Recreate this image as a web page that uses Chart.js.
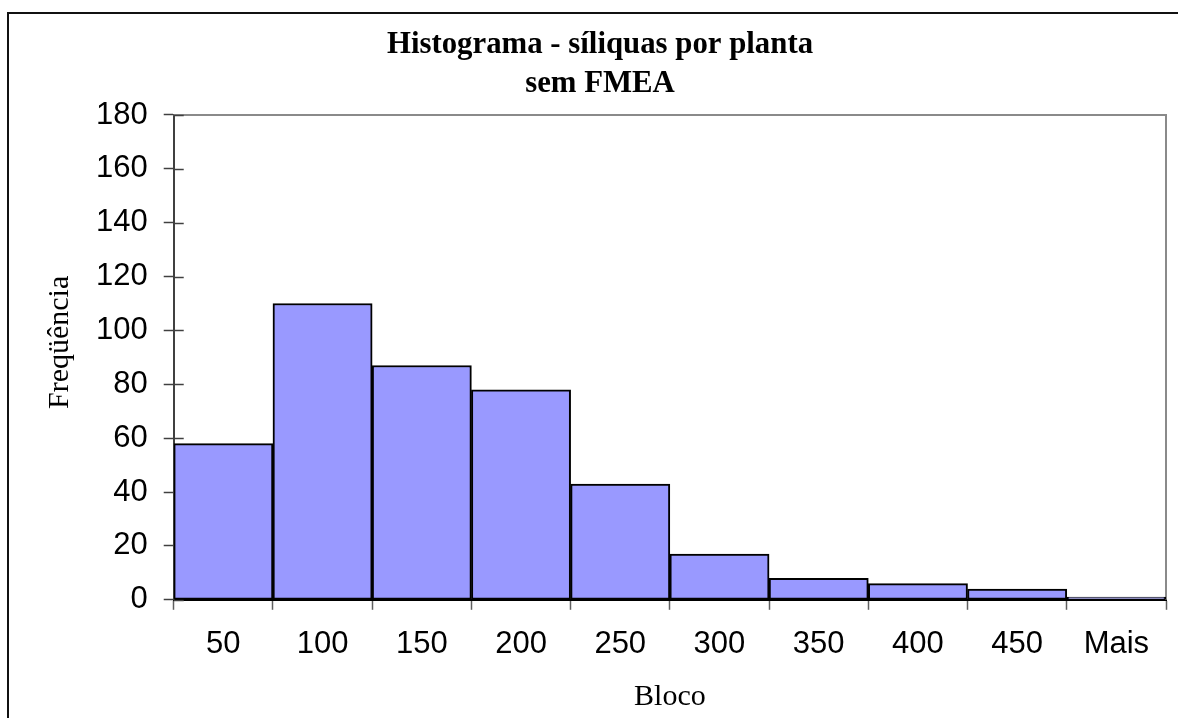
<!DOCTYPE html>
<html>
<head>
<meta charset="utf-8">
<script src="https://cdn.jsdelivr.net/npm/chart.js@4"></script>
<style>
  html, body { margin: 0; padding: 0; background: #fff; overflow: hidden; }
  #frame { position: absolute; left: 7px; top: 12px; width: 1200px; height: 740px; border: 2px solid #111; box-sizing: border-box; }
  #wrap { position: absolute; left: 0; top: 0; width: 1178px; height: 718px; }
</style>
</head>
<body>
<div id="frame"></div>
<div id="wrap"><canvas id="c" width="1178" height="718"></canvas></div>
<script>
const categories = ['50', '100', '150', '200', '250', '300', '350', '400', '450', 'Mais'];
const frequencies = [58, 110, 87, 78, 43, 17, 8, 6, 4, 1];
const titleLines = ['Histograma - síliquas por planta', 'sem FMEA'];
const xAxisTitle = 'Bloco';
const yAxisTitle = '\u2002\u2002Freqüência';
const yMin = 0, yMax = 180, yStep = 20;

const plotFrame = {
  id: 'plotFrame',
  beforeDatasetsDraw(chart) {
    const { ctx, chartArea: a } = chart;
    ctx.save();
    ctx.strokeStyle = '#8a8a8a';
    ctx.lineWidth = 2;
    ctx.beginPath();
    ctx.moveTo(a.left, a.top);
    ctx.lineTo(a.right, a.top);
    ctx.lineTo(a.right, a.bottom);
    ctx.stroke();
    // inner half of cross tick marks on the y axis
    const ys = chart.scales.y;
    ctx.strokeStyle = '#404040';
    ctx.lineWidth = 1.5;
    ys.ticks.forEach(t => {
      const py = Math.round(ys.getPixelForValue(t.value)) + 0.5;
      ctx.beginPath();
      ctx.moveTo(a.left, py);
      ctx.lineTo(a.left + 10, py);
      ctx.stroke();
    });
    ctx.restore();
  }
};

new Chart(document.getElementById('c'), {
  type: 'bar',
  data: {
    labels: categories,
    datasets: [{
      data: frequencies,
      backgroundColor: '#9999FF',
      borderColor: '#000000',
      borderWidth: 2,
      borderSkipped: false,
      barPercentage: 1.0,
      categoryPercentage: 1.0
    }]
  },
  options: {
    responsive: false,
    animation: false,
    layout: { padding: { left: 34, right: 12, top: 26, bottom: 3 } },
    plugins: {
      legend: { display: false },
      tooltip: { enabled: false },
      title: {
        display: true,
        text: titleLines,
        color: '#000',
        font: { family: 'Liberation Serif', size: 30.8, weight: 'bold', lineHeight: 1.266 },
        padding: { top: 0, bottom: 11 }
      }
    },
    scales: {
      x: {
        grid: {
          display: true,
          offset: true,
          drawOnChartArea: false,
          drawTicks: true,
          tickLength: 10,
          tickColor: '#606060',
          tickWidth: 1.5
        },
        border: { display: true, color: '#000', width: 2 },
        ticks: {
          color: '#000',
          font: { family: 'Liberation Sans', size: 31 },
          padding: 16,
          maxRotation: 0,
          autoSkip: false
        },
        title: {
          display: true,
          text: xAxisTitle,
          color: '#000',
          font: { family: 'Liberation Serif', size: 30 },
          padding: { top: 0, bottom: 0 }
        }
      },
      y: {
        min: yMin,
        max: yMax,
        grid: {
          display: true,
          drawOnChartArea: false,
          drawTicks: true,
          tickLength: 10,
          tickColor: '#404040',
          tickWidth: 1.5
        },
        border: { display: true, color: '#404040', width: 2 },
        ticks: {
          stepSize: yStep,
          color: '#000',
          font: { family: 'Liberation Sans', size: 31 },
          padding: 16
        },
        title: {
          display: true,
          text: yAxisTitle,
          color: '#000',
          font: { family: 'Liberation Serif', size: 30 },
          padding: { top: 8, bottom: 2 }
        }
      }
    }
  },
  plugins: [plotFrame]
});
</script>
</body>
</html>
